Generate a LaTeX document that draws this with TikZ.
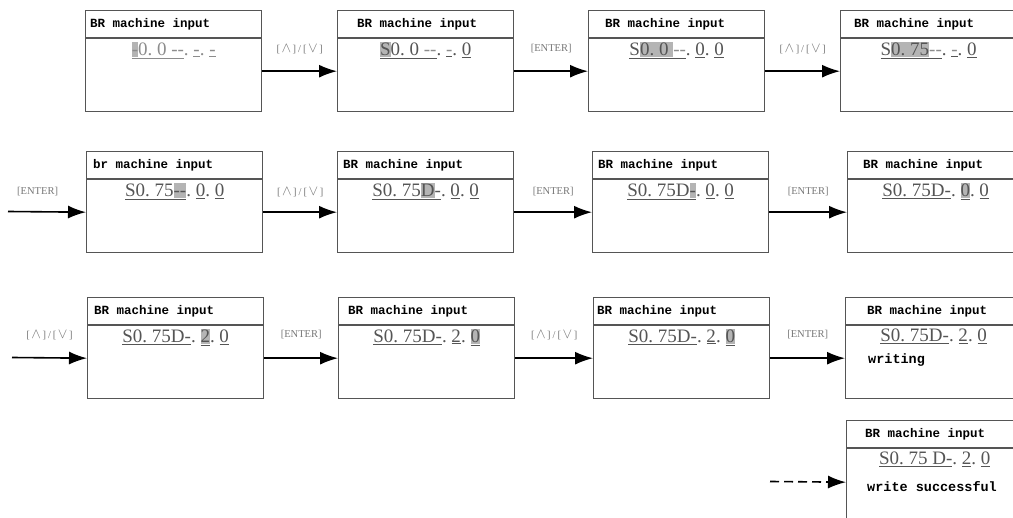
\documentclass[tikz,border=0pt]{standalone}
\usepackage{fontspec}
\setmainfont{Liberation Serif}
\newfontfamily\lcdmono{Liberation Mono}
\usetikzlibrary{arrows.meta}

\definecolor{framegray}{HTML}{555555}
\definecolor{valgray}{HTML}{555555}
\definecolor{dimgray}{HTML}{8C8C8C}
\definecolor{keygray}{HTML}{777777}
\definecolor{curgray}{HTML}{B4B4B4}

\tikzset{
  panelbox/.style={draw=framegray, line width=1.4pt, minimum width=176pt, minimum height=101pt, anchor=north west, inner sep=0pt},
  headtext/.style={anchor=west, inner sep=0pt, font=\lcdmono\bfseries\fontsize{12.5}{14}\selectfont},
  valtext/.style={anchor=north, inner sep=0pt, text=valgray, font=\fontsize{19}{21}\selectfont},
  notetext/.style={anchor=west, inner sep=0pt, font=\lcdmono\bfseries\fontsize{13.5}{15}\selectfont},
  flow/.style={-{Latex[length=18pt,width=13pt]}, line width=1.6pt},
  keytext/.style={text=keygray, font=\fontsize{10.5}{12}\selectfont},
}

% underlined field, cursor cell
\newcommand{\cu}[1]{\underline{#1}}
\newcommand{\cur}[1]{{\setlength{\fboxsep}{0pt}\colorbox{curgray}{\rule[-1.5pt]{0pt}{14.5pt}#1}}}
\newcommand{\keysym}[1]{{\fontsize{14}{14}\selectfont$#1$}}
\newcommand{\updown}{[\kern1.5pt\keysym{\wedge}\kern1.5pt]\kern2pt/\kern2pt[\kern1.5pt\keysym{\vee}\kern1.5pt]}
\newcommand{\enterkey}{[ENTER]}
% name, x, y (top left), header offset, header, value
\newcommand{\panel}[6]{%
  \node[panelbox] (#1) at (#2,#3) {};
  \draw[framegray, line width=1.4pt] ([yshift=-28pt]#1.north west) -- ([yshift=-28pt]#1.north east);
  \node[headtext] (#1h) at ([xshift=#4pt,yshift=-14pt]#1.north west) {#5};
  \node[valtext] (#1v) at ([yshift=-32pt]#1.north) {#6};
}

\begin{document}
\begin{tikzpicture}[x=1pt,y=-1pt]
  \clip (0,0) rectangle (1013,518);

  % row 1
  \panel{b11}{85}{10}{5}{BR machine input}{\color{dimgray}\cu{\cur{-}0.\ 0 {-}{-}}.\ \cu{-}.\ \cu{-}}
  \panel{b12}{337}{10}{20}{BR machine input}{\cu{\cur{S}0.\ 0 {\color{dimgray}{-}{-}}}.\ \cu{\color{dimgray}-}.\ \cu{0}}
  \panel{b13}{588}{10}{17}{BR machine input}{\cu{S\cur{0.\ 0 }{\color{dimgray}{-}{-}}}.\ \cu{0}.\ \cu{0}}
  \panel{b14}{840}{10}{14}{BR machine input}{\cu{S\cur{0.\ 75}{\color{dimgray}{-}{-}}}.\ \cu{\color{dimgray}-}.\ \cu{0}}

  % row 2
  \panel{b21}{86}{151}{7}{br machine input}{\cu{S0.\ 75\cur{{-}{-}}}.\ \cu{0}.\ \cu{0}}
  \panel{b22}{337}{151}{6}{BR machine input}{\cu{S0.\ 75\cur{D}-}.\ \cu{0}.\ \cu{0}}
  \panel{b23}{592}{151}{6}{BR machine input}{\cu{S0.\ 75D\cur{-}}.\ \cu{0}.\ \cu{0}}
  \panel{b24}{847}{151}{16}{BR machine input}{\cu{S0.\ 75D-}.\ \cu{\cur{0}}.\ \cu{0}}

  % row 3
  \panel{b31}{87}{297}{7}{BR machine input}{\cu{S0.\ 75D-}.\ \cu{\cur{2}}.\ \cu{0}}
  \panel{b32}{338}{297}{10}{BR machine input}{\cu{S0.\ 75D-}.\ \cu{2}.\ \cu{\cur{0}}}
  \panel{b33}{593}{297}{4}{BR machine input}{\cu{S0.\ 75D-}.\ \cu{2}.\ \cu{\cur{0}}}
  \panel{b34}{845}{297}{22}{BR machine input}{\cu{S0.\ 75D-}.\ \cu{2}.\ \cu{0}}
  \node[notetext] (w34) at (868,360) {writing};

  % row 4
  \panel{b41}{846}{420}{19}{BR machine input}{\cu{S0.\ 75 D-}.\ \cu{2}.\ \cu{0}}
  \node[notetext] (w41) at (867,487) {write successful};

  % connectors
  \coordinate (in2) at (8,211.5);
  \coordinate (in3) at (12,357.5);
  \coordinate (in4) at (770,481.5);

  \draw[flow] ([yshift=-10pt]b11.east) -- ([yshift=-10pt]b12.west) node[keytext, midway, above=13pt] {\updown};
  \draw[flow] ([yshift=-10pt]b12.east) -- ([yshift=-10pt]b13.west) node[keytext, midway, above=14pt] {\enterkey};
  \draw[flow] ([yshift=-10pt]b13.east) -- ([yshift=-10pt]b14.west) node[keytext, midway, above=13pt] {\updown};

  \draw[flow] (in2) -- ([yshift=-10pt]b21.west) node[keytext, pos=0.38, above=12pt] {\enterkey};
  \draw[flow] ([yshift=-10pt]b21.east) -- ([yshift=-10pt]b22.west) node[keytext, midway, above=11pt] {\updown};
  \draw[flow] ([yshift=-10pt]b22.east) -- ([yshift=-10pt]b23.west) node[keytext, midway, above=12pt] {\enterkey};
  \draw[flow] ([yshift=-10pt]b23.east) -- ([yshift=-10pt]b24.west) node[keytext, midway, above=12pt] {\enterkey};

  \draw[flow] (in3) -- ([yshift=-10pt]b31.west) node[keytext, midway, above=14pt] {\updown};
  \draw[flow] ([yshift=-10pt]b31.east) -- ([yshift=-10pt]b32.west) node[keytext, midway, above=15pt] {\enterkey};
  \draw[flow] ([yshift=-10pt]b32.east) -- ([yshift=-10pt]b33.west) node[keytext, midway, above=14pt] {\updown};
  \draw[flow] ([yshift=-10pt]b33.east) -- ([yshift=-10pt]b34.west) node[keytext, midway, above=15pt] {\enterkey};

  \draw[flow, dashed, dash pattern=on 9pt off 5pt] (in4) -- ([yshift=-11pt]b41.west);
\end{tikzpicture}
\end{document}
